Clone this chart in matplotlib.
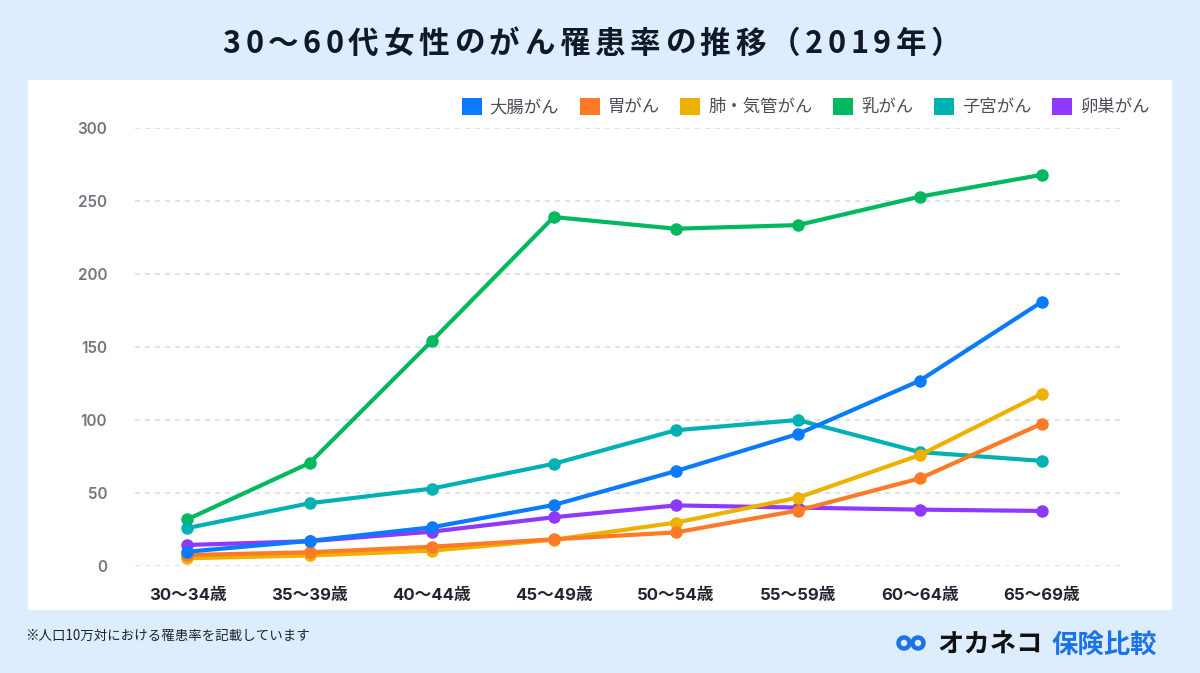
import matplotlib
matplotlib.use("Agg")
import matplotlib.pyplot as plt
from matplotlib.patches import Rectangle, Patch, Circle
from matplotlib.font_manager import findfont, FontProperties
from matplotlib.ft2font import FT2Font

plt.rcParams['font.family'] = ['Noto Sans CJK JP', 'DejaVu Sans']

# data
ages = ["30〜34歳", "35〜39歳", "40〜44歳", "45〜49歳",
        "50〜54歳", "55〜59歳", "60〜64歳", "65〜69歳"]
colon = [9.8, 17.2, 26.5, 41.8, 65.0, 90.4, 127.0, 181.0]
stomach = [7.5, 9.4, 13.2, 18.3, 23.0, 38.0, 60.0, 97.5]
lung = [5.3, 7.2, 10.5, 18.0, 29.7, 46.8, 76.0, 118.0]
breast = [32.0, 70.5, 154.0, 239.0, 231.0, 233.5, 253.0, 268.0]
uterus = [26.0, 43.0, 53.0, 70.0, 93.0, 100.0, 78.0, 72.0]
ovary = [14.4, 17.0, 23.5, 33.4, 41.5, 40.0, 38.6, 37.7]

names = ["大腸がん", "胃がん", "肺・気管がん", "乳がん", "子宮がん", "卵巣がん"]
series = [colon, stomach, lung, breast, uterus, ovary]
colors = ["#0A7BFF", "#FF7A26", "#EDB100", "#00B85F", "#00B1B3", "#8F38FF"]
# green and teal sit underneath the others
draw_order = [3, 4, 5, 2, 1, 0]

title = "30〜60代女性のがん罹患率の推移（2019年）"
W, H = 1200, 673

fig = plt.figure(figsize=(12, 6.73), dpi=100)
fig.patch.set_facecolor("#DDEDFD")

# white panel
fig.patches.append(Rectangle((28 / W, 1 - 610 / H), 1144 / W, 530 / H,
                             transform=fig.transFigure, facecolor="white",
                             edgecolor="none", zorder=-1))

ax = fig.add_axes([135 / W, 1 - 566 / H, 990 / W, 438 / H])
ax.set_zorder(2)
ax.set_facecolor("none")
x = list(range(len(ages)))
for i in draw_order:
    ax.plot(x, series[i], color=colors[i], lw=3.0, marker="o", ms=8,
            solid_capstyle="round", zorder=3)

ax.set_ylim(0, 300)
ax.set_xlim(-0.43, 7.68)
ax.set_yticks([0, 50, 100, 150, 200, 250, 300])
ax.set_xticks(x)
ax.set_xticklabels(ages, fontsize=12, fontweight="bold", color="#1F2430",
                   family=["Inter", "Noto Sans CJK JP"])
ax.tick_params(axis="x", length=0, pad=16)
ax.tick_params(axis="y", length=0, pad=20, labelsize=11, labelcolor="#70757E")
for lab in ax.get_yticklabels():
    lab.set_fontweight("semibold")
    lab.set_family(["Inter", "DejaVu Sans"])
ax.grid(axis="y", color="#DEDEDE", ls=(0, (3, 3)), lw=1.2)
ax.set_axisbelow(True)
for s in ax.spines.values():
    s.set_visible(False)

handles = [Patch(facecolor=c, edgecolor="none") for c in colors]
leg = fig.legend(handles, names, loc="upper right", ncol=6,
                 bbox_to_anchor=(1165 / W, 1 - 82 / H), frameon=False,
                 handlelength=1.15, handleheight=1.15, handletextpad=0.45,
                 columnspacing=1.2, prop={"size": 12.5})
for t in leg.get_texts():
    t.set_color("#4A4F57")

# title with letter spacing, drawn glyph by glyph
fp = FontProperties(family="Noto Sans CJK JP", weight="bold")
ft = FT2Font(findfont(fp))
ft.set_size(22, 100)
advs = [ft.load_char(ord(c)).linearHoriAdvance / 65536 for c in title]
gap = 4.6
total = sum(advs) + gap * (len(title) - 1)
px = 592 - total / 2
for c, a in zip(title, advs):
    fig.text((px + a / 2) / W, 1 - 44 / H, c, ha="center", va="center",
             fontsize=22, fontweight="bold", color="#111827")
    px += a + gap

fig.text(25 / W, 1 - 636 / H, "※人口10万対における罹患率を記載しています",
         ha="left", va="center", fontsize=9.7, color="#1F2430")

# logo
for cx in (9.04, 9.18):
    fig.patches.append(Circle((cx, 6.73 - 6.43), 0.055,
                              transform=fig.dpi_scale_trans, facecolor="none",
                              edgecolor="#1A73E8", lw=3.2))
fig.text(937 / W, 1 - 645 / H, "オカネコ", ha="left", va="center",
         fontsize=19, fontweight="bold", color="#111111")
fig.text(1052 / W, 1 - 645 / H, "保険比較", ha="left", va="center",
         fontsize=19, fontweight="bold", color="#1A73E8")

fig.savefig("out.png", dpi=100, facecolor=fig.get_facecolor())
